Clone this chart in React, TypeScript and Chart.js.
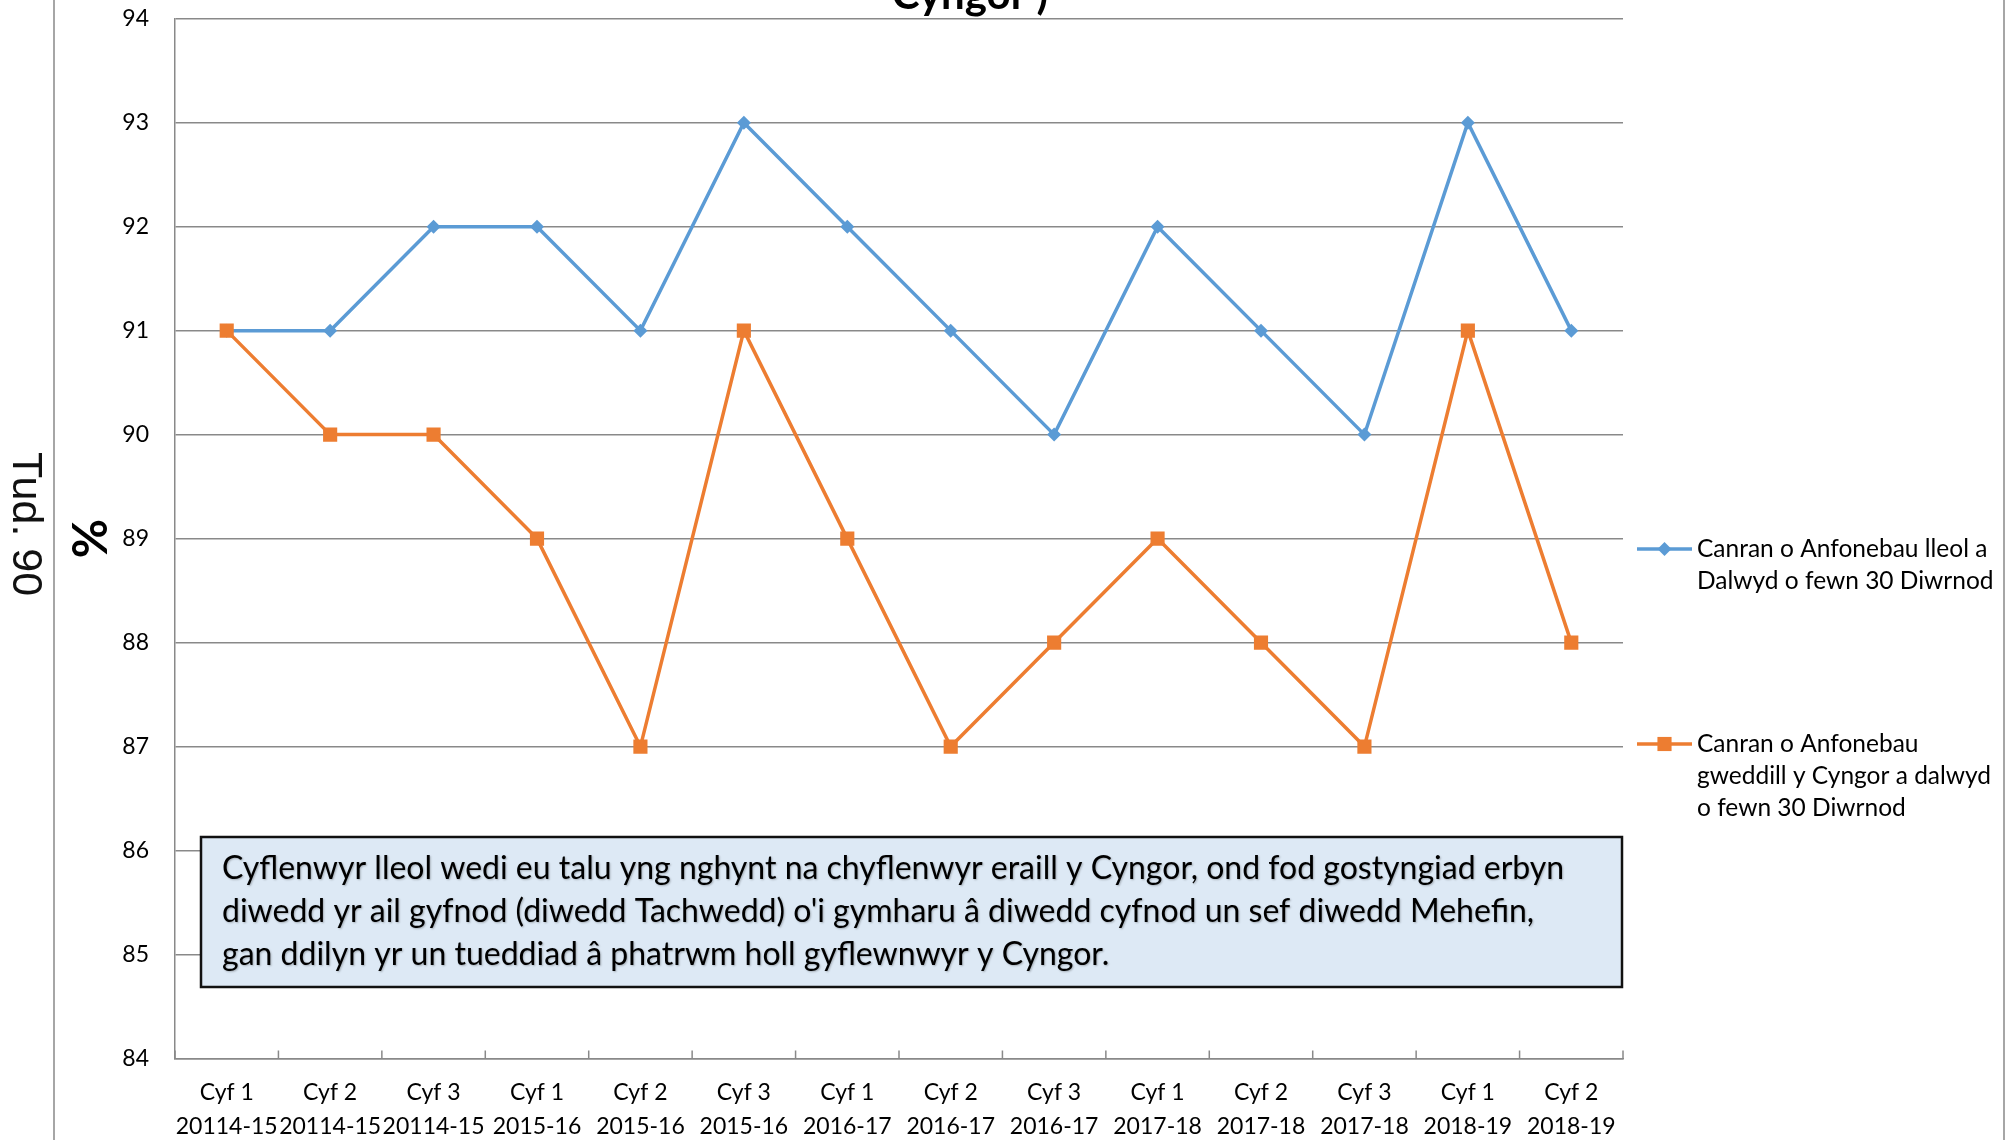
import React, { useEffect, useRef } from "react";
import { Chart, registerables } from "chart.js";

Chart.register(...registerables);

const periods = ["Cyf 1", "Cyf 2", "Cyf 3", "Cyf 1", "Cyf 2", "Cyf 3", "Cyf 1", "Cyf 2", "Cyf 3", "Cyf 1", "Cyf 2", "Cyf 3", "Cyf 1", "Cyf 2"];
const years = ["20114-15", "20114-15", "20114-15", "2015-16", "2015-16", "2015-16", "2016-17", "2016-17", "2016-17", "2017-18", "2017-18", "2017-18", "2018-19", "2018-19"];
const localPaid = [91, 91, 92, 92, 91, 93, 92, 91, 90, 92, 91, 90, 93, 91];
const councilPaid = [91, 90, 90, 89, 87, 91, 89, 87, 88, 89, 88, 87, 91, 88];
const yMin = 84;
const yMax = 94;
const yStep = 1;

const legendLocal = ["Canran o Anfonebau lleol a", "Dalwyd o fewn 30 Diwrnod"];
const legendCouncil = ["Canran o Anfonebau", "gweddill y Cyngor a dalwyd", "o fewn 30 Diwrnod"];
const noteLines = [
  "Cyflenwyr lleol wedi eu talu yng nghynt na chyflenwyr eraill y Cyngor, ond fod gostyngiad erbyn",
  "diwedd yr ail gyfnod (diwedd Tachwedd) o'i gymharu â diwedd cyfnod un sef diwedd Mehefin,",
  "gan ddilyn yr un tueddiad â phatrwm holl gyflewnwyr y Cyngor.",
];
const titleTail = "Cyngor )";
const yAxisTitle = "%";
const pageLabel = "Tud. 90";

const BLUE = "#5B9BD5";
const ORANGE = "#ED7D31";
const GRID = "#898989";
const FONT = "Lato, 'Open Sans', sans-serif";

function drawMarker(ctx: CanvasRenderingContext2D, style: string, x: number, y: number, r: number, color: string) {
  ctx.save();
  ctx.fillStyle = color;
  ctx.beginPath();
  if (style === "rectRot") {
    ctx.moveTo(x - r, y);
    ctx.lineTo(x, y - r);
    ctx.lineTo(x + r, y);
    ctx.lineTo(x, y + r);
    ctx.closePath();
  } else {
    const s = r * Math.SQRT1_2;
    ctx.rect(x - s, y - s, 2 * s, 2 * s);
  }
  ctx.fill();
  ctx.restore();
}

const decorPlugin = {
  id: "decor",
  afterDraw(chart: any) {
    const ctx: CanvasRenderingContext2D = chart.ctx;
    const xs = chart.scales.x;
    const area = chart.chartArea;
    const W = chart.width;
    const H = chart.height;

    // inside tick marks on x axis at category boundaries
    ctx.save();
    ctx.strokeStyle = GRID;
    ctx.lineWidth = 1.5;
    for (let i = 0; i <= periods.length; i++) {
      const x = xs.getPixelForValue(i - 0.5);
      ctx.beginPath();
      ctx.moveTo(x, area.bottom);
      ctx.lineTo(x, area.bottom - 8);
      ctx.stroke();
    }
    ctx.restore();

    // page side lines
    ctx.save();
    ctx.strokeStyle = "#A6A6A6";
    ctx.lineWidth = 2;
    ctx.beginPath();
    ctx.moveTo(54, 0);
    ctx.lineTo(54, H);
    ctx.moveTo(W - 9, 0);
    ctx.lineTo(W - 9, H);
    ctx.stroke();
    ctx.restore();

    // page label
    ctx.save();
    ctx.translate(13, 524);
    ctx.rotate(Math.PI / 2);
    ctx.fillStyle = "#111";
    ctx.font = "43px 'Liberation Sans', Arial, sans-serif";
    ctx.textAlign = "center";
    ctx.textBaseline = "alphabetic";
    ctx.fillText(pageLabel, 0, 0);
    ctx.restore();

    // cut-off title
    ctx.save();
    ctx.fillStyle = "#000";
    ctx.font = `bold 42px ${FONT}`;
    ctx.textAlign = "center";
    ctx.textBaseline = "alphabetic";
    ctx.fillText(titleTail, 970, 9, 164);
    ctx.restore();

    // legend
    const legendX0 = area.right + 14;
    const legendX1 = area.right + 69;
    const textX = area.right + 74;
    const lineH = 32;
    const entries = [
      { lines: legendLocal, color: BLUE, style: "rectRot", r: 7, y: 549 },
      { lines: legendCouncil, color: ORANGE, style: "rect", r: 10, y: 744 },
    ];
    ctx.save();
    ctx.font = `24.5px ${FONT}`;
    ctx.textAlign = "left";
    ctx.textBaseline = "middle";
    for (const e of entries) {
      ctx.strokeStyle = e.color;
      ctx.lineWidth = 3.5;
      ctx.beginPath();
      ctx.moveTo(legendX0, e.y);
      ctx.lineTo(legendX1, e.y);
      ctx.stroke();
      drawMarker(ctx, e.style, (legendX0 + legendX1) / 2, e.y, e.r, e.color);
      ctx.fillStyle = "#000";
      e.lines.forEach((t, i) => ctx.fillText(t, textX, e.y + i * lineH));
    }
    ctx.restore();

    // note box
    const bx = area.left + 26;
    const by = 837;
    const bw = area.right - 1 - bx;
    const bh = 150;
    ctx.save();
    ctx.fillStyle = "#DDE9F5";
    ctx.fillRect(bx, by, bw, bh);
    ctx.strokeStyle = "#111";
    ctx.lineWidth = 2.5;
    ctx.strokeRect(bx, by, bw, bh);
    ctx.fillStyle = "#000";
    ctx.font = `32px ${FONT}`;
    ctx.textAlign = "left";
    ctx.textBaseline = "middle";
    ctx.shadowColor = "rgba(0,0,0,0.25)";
    ctx.shadowOffsetX = 1;
    ctx.shadowOffsetY = 1;
    ctx.shadowBlur = 2;
    noteLines.forEach((t, i) => ctx.fillText(t, bx + 21, by + 32 + i * 43));
    ctx.restore();
  },
};

export default function App() {
  const ref = useRef<HTMLCanvasElement | null>(null);

  useEffect(() => {
    if (!ref.current) return;
    const labels = periods.map((p, i) => [p, years[i]]);
    const chart = new Chart(ref.current, {
      type: "line",
      data: {
        labels,
        datasets: [
          {
            label: legendLocal.join(" "),
            data: localPaid,
            borderColor: BLUE,
            backgroundColor: BLUE,
            borderWidth: 3.5,
            pointStyle: "rectRot",
            pointRadius: 7,
            pointBorderWidth: 0,
            pointBackgroundColor: BLUE,
            tension: 0,
            order: 1,
          },
          {
            label: legendCouncil.join(" "),
            data: councilPaid,
            borderColor: ORANGE,
            backgroundColor: ORANGE,
            borderWidth: 3.5,
            pointStyle: "rect",
            pointRadius: 10,
            pointBorderWidth: 0,
            pointBackgroundColor: ORANGE,
            tension: 0,
            order: 0,
          },
        ],
      },
      options: {
        responsive: false,
        animation: false,
        layout: { padding: { left: 0, right: 390, top: 18.7, bottom: 0 } },
        plugins: {
          legend: { display: false },
          tooltip: { enabled: false },
          title: { display: false },
        },
        scales: {
          x: {
            type: "category",
            offset: true,
            grid: { display: false, drawTicks: false, offset: true },
            border: { display: true, color: GRID, width: 1.5 },
            ticks: {
              color: "#000",
              padding: 17,
              autoSkip: false,
              maxRotation: 0,
              font: { family: FONT, size: 23, lineHeight: 1.48 },
            },
            afterFit(s: any) {
              s.height = 81.5;
            },
          },
          y: {
            min: yMin,
            max: yMax,
            ticks: {
              stepSize: yStep,
              color: "#000",
              padding: 0,
              font: { family: FONT, size: 23 },
            },
            grid: { color: GRID, lineWidth: 1.5, drawTicks: true, tickLength: 26, tickColor: "rgba(0,0,0,0)" },
            border: { display: true, color: GRID, width: 1.5 },
            title: {
              display: true,
              text: yAxisTitle,
              color: "#000",
              font: { family: FONT, size: 48, weight: "bold", lineHeight: 1 },
              padding: { top: 68, bottom: 0 },
            },
            afterFit(s: any) {
              s.width = 175;
            },
          },
        },
      },
      plugins: [decorPlugin],
    });
    return () => chart.destroy();
  }, []);

  return (
    <div style={{ position: "absolute", left: 0, top: 0, width: 2013, height: 1140, background: "#fff" }}>
      <canvas ref={ref} width={2013} height={1140} style={{ display: "block", width: 2013, height: 1140 }} />
    </div>
  );
}
